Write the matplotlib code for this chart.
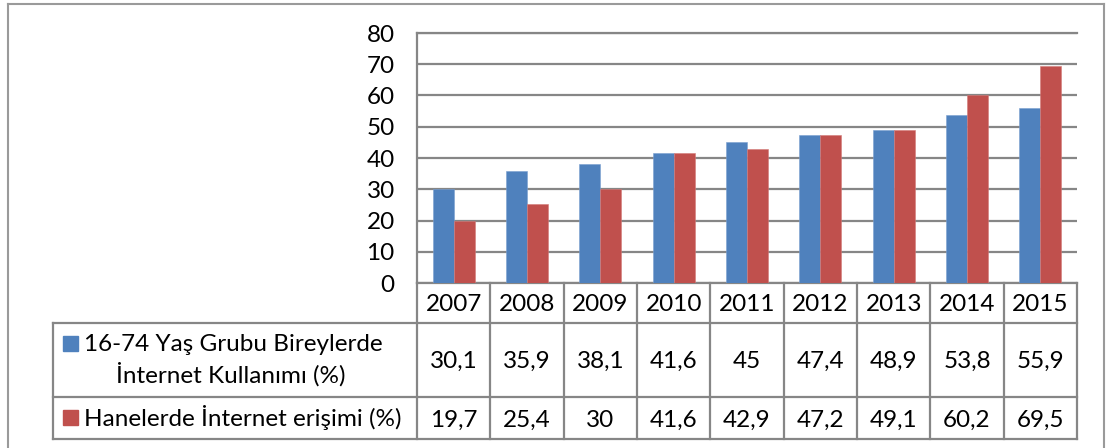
import matplotlib
matplotlib.use("Agg")
import matplotlib.pyplot as plt
from matplotlib.patches import Rectangle
from matplotlib.lines import Line2D
import matplotlib.transforms as mtransforms
import numpy as np

plt.rcParams['font.family'] = ['Lato', 'DejaVu Sans']

years = ["2007", "2008", "2009", "2010", "2011", "2012", "2013", "2014", "2015"]
internet_use = [30.1, 35.9, 38.1, 41.6, 45, 47.4, 48.9, 53.8, 55.9]
household_access = [19.7, 25.4, 30, 41.6, 42.9, 47.2, 49.1, 60.2, 69.5]
series_names = ["16-74 Yaş Grubu Bireylerde", "İnternet Kullanımı (%)"]
series2_name = "Hanelerde İnternet erişimi (%)"
y_ticks = [0, 10, 20, 30, 40, 50, 60, 70, 80]

BLUE = "#4F81BD"
RED = "#C0504D"
GRID = "#868686"
FS = 17.5

W, H = 1109, 448
fig = plt.figure(figsize=(W / 100, H / 100), dpi=100)

def fx(x):
    return x / W

def fy(y):
    return 1 - y / H

# plot area
left, right, top, bottom = 417, 1077, 33, 283
ax = fig.add_axes([fx(left), fy(bottom), fx(right - left), (bottom - top) / H])
n = len(years)
x = np.arange(n)
w = 1 / 3.5
ax.bar(x - w / 2, internet_use, w, color=BLUE, edgecolor="#7a9fd0", linewidth=0.4, zorder=3)
ax.bar(x + w / 2, household_access, w, color=RED, edgecolor="#d47b79", linewidth=0.4, zorder=3)
ax.set_xlim(-0.5, n - 0.5)
ax.set_ylim(0, 80)
ax.set_yticks(y_ticks)
ax.set_yticklabels([str(t) for t in y_ticks], fontsize=FS)
ax.set_xticks([])
ax.tick_params(axis='y', length=0, pad=16)
ax.yaxis.grid(True, color=GRID, linewidth=1.6, zorder=0)
ax.set_axisbelow(True)
for s in ['left', 'top', 'bottom']:
    ax.spines[s].set_color(GRID)
    ax.spines[s].set_linewidth(1.6)
ax.spines['right'].set_visible(False)

# table
blend = mtransforms.blended_transform_factory(ax.transData, fig.transFigure)
row_year, row1_top, row2_top, tab_bot = 283, 323, 397, 439
tab_left = 53
lc = GRID
lw = 1.6
for yy in [row1_top, row2_top, tab_bot]:
    fig.add_artist(Line2D([fx(tab_left), fx(right)], [fy(yy), fy(yy)], color=lc, lw=lw,
                          transform=fig.transFigure))
fig.add_artist(Line2D([fx(tab_left), fx(tab_left)], [fy(row1_top), fy(tab_bot)], color=lc, lw=lw,
                      transform=fig.transFigure))
for i in range(n + 1):
    fig.add_artist(Line2D([i - 0.5, i - 0.5], [fy(row_year), fy(tab_bot)], color=lc, lw=lw,
                          transform=blend))

def fmt(v):
    return ("%g" % v).replace(".", ",")

for i in range(n):
    fig.text(i, fy(311), years[i], transform=blend, ha='center', va='baseline', fontsize=FS)
    fig.text(i, fy(368), fmt(internet_use[i]), transform=blend, ha='center', va='baseline', fontsize=FS)
    fig.text(i, fy(427), fmt(household_access[i]), transform=blend, ha='center', va='baseline', fontsize=FS)

# row labels with legend keys
fig.add_artist(Rectangle((fx(63), fy(351)), fx(15), 15 / H, color=BLUE, transform=fig.transFigure))
fig.add_artist(Rectangle((fx(63), fy(425)), fx(15), 15 / H, color=RED, transform=fig.transFigure))
fig.text(fx(84), fy(351), series_names[0], ha='left', va='baseline', fontsize=FS)
fig.text(fx(231), fy(383), series_names[1], ha='center', va='baseline', fontsize=FS)
fig.text(fx(84), fy(426), series2_name, ha='left', va='baseline', fontsize=FS)

# outer border
bc = "#9a9a9a"
fig.add_artist(Line2D([fx(8), fx(8)], [fy(4), 0], color=bc, lw=1.5, transform=fig.transFigure))
fig.add_artist(Line2D([fx(8), fx(1104)], [fy(4), fy(4)], color=bc, lw=1.5, transform=fig.transFigure))
fig.add_artist(Line2D([fx(1104), fx(1104)], [fy(4), 0], color=bc, lw=1.5, transform=fig.transFigure))

fig.savefig("out.png", dpi=100)
